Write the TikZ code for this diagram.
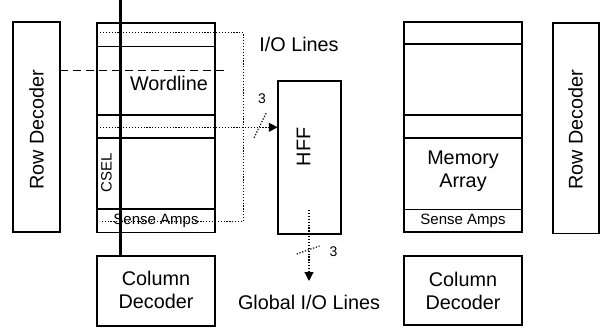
\documentclass[tikz,border=0pt]{standalone}
\usepackage{fontspec}
\setmainfont{Liberation Sans}
\usetikzlibrary{arrows.meta}
\tikzset{
  box/.style={draw, line width=1.6pt, inner sep=0pt, outer sep=0pt},
  big/.style={font=\fontsize{19.8}{23}\selectfont, align=center, inner sep=0pt},
  small/.style={font=\fontsize{15}{17}\selectfont, inner sep=0pt},
  tiny/.style={font=\fontsize{14}{16}\selectfont, inner sep=0pt},
  dotline/.style={line width=1.2pt, dash pattern=on 1.2pt off 1.7pt},
  dashline/.style={line width=1.5pt, dash pattern=on 8pt off 5pt},
  tip/.style={-{Triangle[length=9pt,width=9pt]}},
  divide/.style={line width=1.6pt}
}
\begin{document}
\begin{tikzpicture}[x=1pt,y=-1pt]
\useasboundingbox (0,0) rectangle (607,331);
% boxes
\node[box, minimum width=47pt, minimum height=210pt] (rdL) at (36.5,127) {};
\node[box, minimum width=118pt, minimum height=209pt] (arrL) at (156,127.8) {};
\node[box, minimum width=118pt, minimum height=70pt] (colL) at (156,291) {};
\node[box, minimum width=63.5pt, minimum height=153pt] (hff) at (309.5,157.5) {};
\node[box, minimum width=118pt, minimum height=210pt] (arrR) at (463,127) {};
\node[box, minimum width=46.5pt, minimum height=210pt] (rdR) at (576,128.3) {};
\node[box, minimum width=118pt, minimum height=69pt] (colR) at (463,290.5) {};
% dividers left array
\foreach \yy in {46.7,115,138.3,209} {
  \draw[divide] (arrL.west |- 0,\yy) -- (arrL.east |- 0,\yy);
}
% dividers right array
\foreach \yy in {44.3,115,138.3,209.3} {
  \draw[divide] (arrR.west |- 0,\yy) -- (arrR.east |- 0,\yy);
}
% labels
\node[big, rotate=90] (tRdL) at (36.5,130) {Row Decoder};
\node[big, rotate=90] (tRdR) at (575.5,130) {Row Decoder};
\node[big] (tWord) at (169,83) {Wordline};
\node[big] (tMem) at (463,171) {Memory\\Array};
\node[big] (tColL) at (156,290) {Column\\Decoder};
\node[big] (tColR) at (463,290.5) {Column\\Decoder};
\node[big, rotate=90] (tHff) at (303.5,147) {HFF};
\node[big] (tIO) at (299,44.5) {I/O Lines};
\node[big] (tGIO) at (309,302.5) {Global I/O Lines};
\node[small] (tSAL) at (156,220.5) {Sense Amps};
\node[small] (tSAR) at (463,220.5) {Sense Amps};
\node[small, rotate=90] (tCsel) at (106.5,172.5) {CSEL};
\node[tiny] (t3a) at (262,99) {3};
\node[tiny] (t3b) at (333.5,251.5) {3};
% wordline
\coordinate (wlEnd) at (226.7,70.3);
\draw[dashline] (rdL.east |- wlEnd) -- (wlEnd);
% dotted I/O lines
\coordinate (ioA) at (100,32.7);
\coordinate (ioB) at (243.3,32.7);
\coordinate (ioC) at (243.3,221.7);
\coordinate (ioD) at (100,221.7);
\draw[dotline] (ioA) -- (ioB) -- (ioC) -- (ioD);
\coordinate (io2) at (100,127.3);
\draw[dotline, tip] (io2) -- (hff.west |- io2);
\coordinate (s1a) at (254,137.7);
\coordinate (s1b) at (266.5,112.5);
\draw[dotline] (s1a) -- (s1b);
\coordinate (hffOut) at (309,210);
\coordinate (gio) at (309,281);
\draw[dotline, tip] (hffOut) -- (gio);
\coordinate (s2a) at (296.7,254);
\coordinate (s2b) at (319.5,246);
\draw[dotline] (s2a) -- (s2b);
% thick column line
\coordinate (colTop) at (120,0);
\draw[line width=3pt] (colTop) -- (colL.north -| colTop);
\end{tikzpicture}
\end{document}
